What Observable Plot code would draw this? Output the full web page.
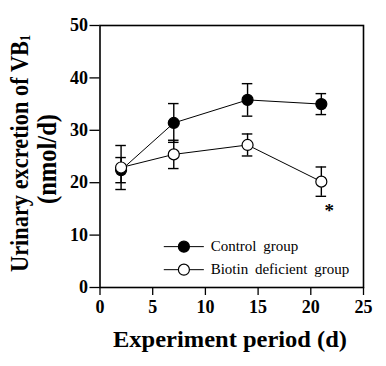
<!DOCTYPE html>
<html>
<head>
<meta charset="utf-8">
<script src="https://cdn.jsdelivr.net/npm/d3@7"></script>
<script src="https://cdn.jsdelivr.net/npm/@observablehq/plot@0.6"></script>
<style>
  html, body { margin: 0; padding: 0; background: #fff; }
  #chart { width: 386px; height: 366px; }
  #chart svg text { font-family: "Liberation Serif", serif; }
</style>
</head>
<body>
<div id="chart"></div>
<script>
const days = [2, 7, 14, 21];
const controlMean = [22.4, 31.4, 35.8, 35.0];
const controlErr = [2.4, 3.7, 3.1, 2.0];
const biotinMean = [22.9, 25.4, 27.2, 20.2];
const biotinErr = [4.2, 2.7, 2.1, 2.8];
const seriesNames = ["Control group", "Biotin deficient group"];
const seriesFill = ["black", "white"];
const xTicks = [0, 5, 10, 15, 20, 25];
const yTicks = [0, 10, 20, 30, 40, 50];
const xTitle = "Experiment period (d)";
const yTitle1 = "Urinary excretion of VB";
const yTitleSub = "1";
const yTitle2 = "(nmol/d)";
const sigDay = [21];
const sigMark = ["*"];

const rows = [];
days.forEach((d, i) => {
  rows.push({series: seriesNames[0], fill: seriesFill[0], day: d, mean: controlMean[i], err: controlErr[i]});
  rows.push({series: seriesNames[1], fill: seriesFill[1], day: d, mean: biotinMean[i], err: biotinErr[i]});
});
const sig = sigDay.map((d, i) => {
  const j = days.indexOf(d);
  return {day: d, y: biotinMean[j] - biotinErr[j], mark: sigMark[i]};
});
// legend rows positioned in data space inside the frame
const legend = seriesNames.map((s, i) => ({series: s, fill: seriesFill[i], y: i === 0 ? 7.8 : 3.4}));

const serif = "Liberation Serif";
const capHalf = 0.5;

const plot = Plot.plot({
  width: 386,
  height: 366,
  marginLeft: 99.5,
  marginRight: 23,
  marginTop: 25,
  marginBottom: 79,
  style: {background: "white", color: "black", fontFamily: serif},
  x: {domain: [0, 25], ticks: xTicks},
  y: {domain: [0, 50], ticks: yTicks},
  marks: [
    Plot.axisX({ticks: xTicks, tickSize: 8, tickPadding: 5, fontSize: 18, fontWeight: "bold", label: null, strokeWidth: 1.3}),
    Plot.axisY({ticks: yTicks, tickSize: 10, tickPadding: 2, fontSize: 18, fontWeight: "bold", label: null, strokeWidth: 1.3}),
    Plot.frame({stroke: "black", strokeWidth: 1.6}),
    Plot.line(rows, {x: "day", y: "mean", z: "series", stroke: "black", strokeWidth: 1}),
    Plot.ruleX(rows, {x: "day", y1: d => d.mean - d.err, y2: d => d.mean + d.err, stroke: "black", strokeWidth: 1.4}),
    Plot.ruleY(rows, {y: d => d.mean - d.err, x1: d => d.day - capHalf, x2: d => d.day + capHalf, stroke: "black", strokeWidth: 1.4}),
    Plot.ruleY(rows, {y: d => d.mean + d.err, x1: d => d.day - capHalf, x2: d => d.day + capHalf, stroke: "black", strokeWidth: 1.4}),
    Plot.dot(rows, {x: "day", y: "mean", r: 5.5, fill: "fill", stroke: "black", strokeWidth: 1.2}),
    Plot.text(sig, {x: "day", y: "y", text: "mark", dx: 8, dy: 15, fontSize: 19, fontWeight: "bold", fill: "black", lineAnchor: "middle"}),
    // legend
    Plot.ruleY(legend, {y: "y", x1: 6.1, x2: 9.9, stroke: "black", strokeWidth: 1}),
    Plot.dot(legend, {x: 7.96, y: "y", r: 5.5, fill: "fill", stroke: "black", strokeWidth: 1.2}),
    Plot.text(legend, {x: 10.5, y: "y", text: "series", textAnchor: "start", fontSize: 15, fill: "black"})
  ]
});

plot.querySelectorAll("text").forEach(t => {
  t.style.fontFamily = serif;
  if (t.textContent.includes(" ")) t.style.wordSpacing = "3px";
});

document.getElementById("chart").appendChild(plot);

const svg = d3.select(plot);
// x title
svg.append("text")
  .attr("x", 230).attr("y", 346.5)
  .attr("text-anchor", "middle")
  .style("font-family", serif).attr("font-weight", "bold").attr("font-size", 24)
  .attr("fill", "black")
  .attr("textLength", 234).attr("lengthAdjust", "spacingAndGlyphs")
  .text(xTitle);
// y title line 1 with subscript
const t1 = svg.append("text")
  .attr("transform", "translate(28.3,153.5) rotate(-90)")
  .attr("text-anchor", "middle")
  .style("font-family", serif).attr("font-weight", "bold").attr("font-size", 26)
  .attr("fill", "black")
  .attr("textLength", 237).attr("lengthAdjust", "spacingAndGlyphs");
t1.append("tspan").text(yTitle1);
t1.append("tspan").attr("font-size", 14).attr("dy", 2).text(yTitleSub);
svg.append("text")
  .attr("transform", "translate(55.5,159) rotate(-90)")
  .attr("text-anchor", "middle")
  .style("font-family", serif).attr("font-weight", "bold").attr("font-size", 28)
  .attr("fill", "black")
  .attr("textLength", 90).attr("lengthAdjust", "spacingAndGlyphs")
  .text(yTitle2);
</script>
</body>
</html>
